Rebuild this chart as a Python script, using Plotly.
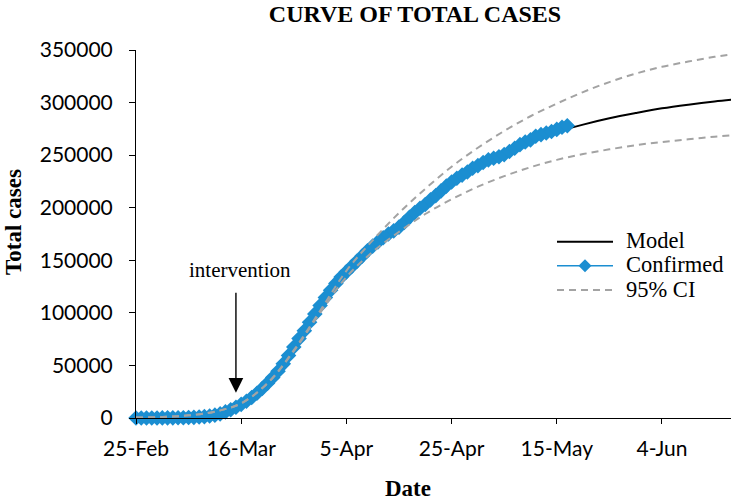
import datetime as dt
import plotly.graph_objects as go

START = dt.date(2020, 2, 25)

# Confirmed cumulative cases, one value per day from 25-Feb
confirmed = [10, 15, 25, 35, 50, 85, 120, 165, 230, 300,
             420, 600, 900, 1300, 1900, 2700, 3900, 5800, 7800, 10200,
             13000, 16000, 19500, 23500, 28000, 33000, 38500, 44500, 51500, 59500,
             67500, 75500, 83000, 91000, 99000, 107000, 114500, 121500, 128000, 134000,
             139000, 144000, 149000, 154000, 159000, 163500, 167500, 171500, 175000, 178000,
             181500, 186000, 191000, 195500, 199500, 203000, 207500, 211500, 216000, 220500,
             224500, 228000, 231000, 234000, 237500, 240000, 243000, 245500, 247000, 248500,
             250500, 253500, 256500, 260000, 262500, 264500, 268000, 269500, 271000, 272500,
             274500, 276500, 278000]
confirmed_dates = [START + dt.timedelta(days=i) for i in range(len(confirmed))]

# Model and 95% CI, read every 5 days from 25-Feb
model_days = list(range(0, 120, 5))
model = [500, 1000, 2500, 6000, 14000, 33000, 64000, 101000, 137000, 163000,
         185000, 205000, 224000, 240000, 253000, 263000, 272000, 279000, 285000, 290000,
         294500, 298000, 301000, 303500]
ci_upper = [500, 1000, 2500, 6000, 14000, 33000, 64500, 102000, 140000, 169000,
            195000, 218000, 239000, 257000, 273000, 287000, 299000, 310000, 319500, 327500,
            334000, 339000, 343500, 347000]
ci_lower = [500, 1000, 2500, 6000, 14000, 33000, 63500, 100000, 134000, 158000,
            177000, 194000, 208000, 220000, 230000, 238500, 245500, 251000, 255500, 259500,
            262500, 265000, 267500, 269500]
model_dates = [START + dt.timedelta(days=d) for d in model_days]

tick_dates = [START + dt.timedelta(days=d) for d in (0, 20, 40, 60, 80, 100)]
tick_labels = ["25-Feb", "16-Mar", "5-Apr", "25-Apr", "15-May", "4-Jun"]
y_ticks = [0, 50000, 100000, 150000, 200000, 250000, 300000, 350000]

intervention_date = dt.date(2020, 3, 15)

BLUE = "#1B8ED1"
GREY = "#A3A3A3"
SERIF = "Liberation Serif, Times New Roman, serif"
SANS = "Lato, Calibri, sans-serif"

FIG_W, FIG_H = 733, 502

fig = go.Figure()
fig.add_trace(go.Scatter(x=model_dates, y=model, mode="lines", name="Model",
                         line=dict(color="black", width=2, shape="spline"),
                         showlegend=False))
fig.add_trace(go.Scatter(x=confirmed_dates, y=confirmed, mode="lines+markers",
                         name="Confirmed", cliponaxis=False,
                         line=dict(color=BLUE, width=1.5),
                         marker=dict(symbol="diamond", size=12, color=BLUE),
                         showlegend=False))
fig.add_trace(go.Scatter(x=model_dates, y=ci_upper, mode="lines", name="95% CI",
                         line=dict(color=GREY, width=2, dash="7px,5px", shape="spline"),
                         showlegend=False))
fig.add_trace(go.Scatter(x=model_dates, y=ci_lower, mode="lines", name="95% CI",
                         line=dict(color=GREY, width=2, dash="7px,5px", shape="spline"),
                         showlegend=False))

# custom legend (plot-area paper coordinates; page pixels -> paper)
L = 136.0; W = 595.0; T = 50.0; H = 368.0
def px(xp):
    return (xp - L) / W
def py(yp):
    return (T + H - yp) / H

legend_items = [("Model", 241.7, dict(color="black", width=2)),
                ("Confirmed", 265.7, dict(color=BLUE, width=1.5)),
                ("95% CI", 290.0, dict(color=GREY, width=2, dash="7px,5px"))]
shapes = []
annotations = []
for label, yy, ln in legend_items:
    shapes.append(dict(type="line", xref="paper", yref="paper",
                       x0=px(557), x1=px(613), y0=py(yy), y1=py(yy), line=ln))
    annotations.append(dict(text=label, xref="paper", yref="paper", x=px(624), y=py(yy - 1),
                            xanchor="left", yanchor="middle", showarrow=False,
                            font=dict(family=SERIF, size=22.5, color="black")))
shapes.append(dict(type="path", xref="paper", yref="paper", xsizemode="pixel",
                   ysizemode="pixel", xanchor=px(585), yanchor=py(265.7),
                   path="M -6.5,0 L 0,6.5 L 6.5,0 L 0,-6.5 Z",
                   fillcolor=BLUE, line=dict(width=0)))

# intervention arrow and label
annotations.append(dict(x=intervention_date, y=24000, ax=intervention_date, ay=120500,
                        xref="x", yref="y", axref="x", ayref="y", text="",
                        showarrow=True, arrowhead=2, arrowsize=2.1, arrowwidth=1.4,
                        arrowcolor="black"))
annotations.append(dict(x=intervention_date, y=141000, xref="x", yref="y",
                        text="intervention", showarrow=False, xshift=4,
                        font=dict(family=SERIF, size=21, color="black")))

# axis titles
annotations.append(dict(text="Date", xref="paper", yref="paper", x=px(408), y=py(489),
                        showarrow=False, xanchor="center", yanchor="middle",
                        font=dict(family=SERIF, size=23, color="black", weight="bold")))
annotations.append(dict(text="Total cases", xref="paper", yref="paper", x=px(13), y=py(222),
                        showarrow=False, xanchor="center", yanchor="middle", textangle=-90,
                        font=dict(family=SERIF, size=23, color="black", weight="bold")))

fig.update_layout(
    width=FIG_W, height=FIG_H,
    margin=dict(l=L, r=FIG_W - (L + W), t=T, b=FIG_H - (T + H)),
    paper_bgcolor="white", plot_bgcolor="white",
    title=dict(text="CURVE OF TOTAL CASES", x=415 / FIG_W, xanchor="center",
               y=1 - 14 / FIG_H, yanchor="middle",
               font=dict(family=SERIF, size=24, color="black", weight="bold")),
    shapes=shapes, annotations=annotations, showlegend=False,
)
fig.update_xaxes(type="date", range=[dt.datetime(2020, 2, 25), dt.datetime(2020, 6, 17, 3)],
                 tickvals=tick_dates, ticktext=tick_labels,
                 showline=True, linecolor="black", linewidth=1,
                 ticks="outside", ticklen=5, tickcolor="black", tickwidth=1,
                 showgrid=False, zeroline=False, ticklabelstandoff=7,
                 tickfont=dict(family=SANS, size=21, color="black"))
fig.update_yaxes(range=[0, 350000], tickvals=y_ticks, tickformat="d",
                 showline=True, linecolor="black", linewidth=1,
                 ticks="outside", ticklen=6, tickcolor="black", tickwidth=1,
                 showgrid=False, zeroline=False, ticklabelstandoff=12,
                 tickfont=dict(family=SANS, size=21, color="black"))

fig.write_html("out.html", config={"displayModeBar": False},
               post_script="document.body.style.margin='0px';document.body.style.overflow='hidden';")
